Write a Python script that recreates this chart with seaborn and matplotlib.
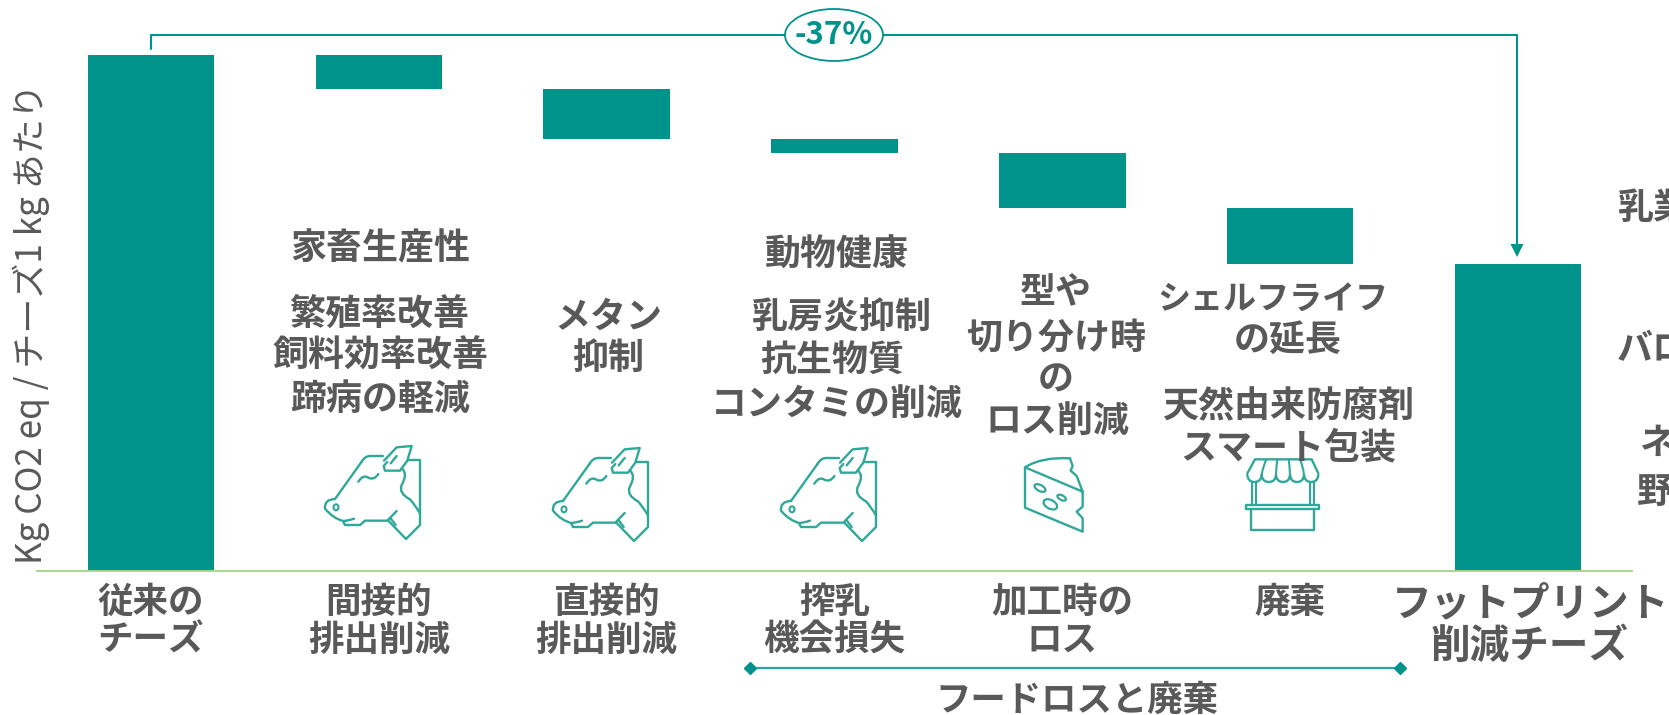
import matplotlib
matplotlib.use("Agg")
import matplotlib.pyplot as plt
import numpy as np
import pandas as pd
import seaborn as sns
from matplotlib.patches import Ellipse, PathPatch, Polygon
from matplotlib.path import Path
from matplotlib.transforms import Affine2D, ScaledTranslation

categories = ["従来の\nチーズ", "間接的\n排出削減", "直接的\n排出削減", "搾乳\n機会損失",
              "加工時の\nロス", "廃棄", "フットプリント\n削減チーズ"]
# Emissions per kg of cheese, conventional cheese = 100
bar_tops = [100.0, 100.0, 93.4, 83.7, 81.0, 70.3]
reductions = [6.6, 9.7, 2.7, 10.7, 10.9]
final_value = 59.4
change_label = "-37%"
ylabel = "Kg CO2 eq / チーズ1 kg あたり"
bracket_label = "フードロスと廃棄"

TEAL = "#00938c"
ICON = "#2fa899"
GREY = "#595959"
W, H = 1669, 715
CJK = ["Noto Sans CJK JP", "DejaVu Sans"]

sns.set_theme(style="white")
plt.rcParams["font.family"] = CJK

heights = [bar_tops[0]] + reductions + [final_value]
bottoms = [0.0] + [t - r for t, r in zip(bar_tops[1:], reductions)] + [0.0]
df = pd.DataFrame({"step": categories, "height": heights})

fig = plt.figure(figsize=(W / 100, H / 100), dpi=100, facecolor="white")
ax = fig.add_axes([37 / W, (H - 571) / H, 1595 / W, 516 / H])
sns.barplot(data=df, x="step", y="height", bottom=bottoms, color=TEAL, saturation=1,
            width=0.555, ax=ax, linewidth=0)
ax.set_xlim(-0.5, 6.5)
ax.set_ylim(0, 100)
ax.set_xlabel("")
ax.set_yticks([])
for side in ("top", "left", "right"):
    ax.spines[side].set_visible(False)
ax.spines["bottom"].set_color("#a9d68c")
ax.spines["bottom"].set_linewidth(1.4)
ax.tick_params(axis="x", length=0, pad=9)
ax.set_ylabel(ylabel, fontsize=25.2, color=GREY)
ax.yaxis.set_label_coords(0.0081, 0.48)
for i, lab in enumerate(ax.get_xticklabels()):
    lab.set(fontsize=28.5 if i == 6 else 25.6, color=GREY, fontweight="bold", linespacing=1.04)
    if i == 6:
        lab.set_transform(lab.get_transform() + ScaledTranslation(12 / 100, 0, fig.dpi_scale_trans))

# Overlay coordinates: figure pixels measured from the top-left corner
px = Affine2D().scale(1 / W, -1 / H).translate(0, 1) + fig.transFigure


def label(x, y, s, size=25.9, color=GREY):
    fig.text(x, y, s, transform=px, ha="center", va="center", fontsize=size,
             color=color, fontweight="bold")


annotations = [
    (380, 249, "家畜生産性"), (380, 314, "繁殖率改善"), (380, 356, "飼料効率改善"), (380, 399, "蹄病の軽減"),
    (608, 317, "メタン"), (608, 358, "抑制"),
    (837, 255, "動物健康"), (841, 318, "乳房炎抑制"), (832, 361, "抗生物質"), (837, 404, "コンタミの削減"),
    (1056, 293, "型や"), (1056, 339, "切り分け時"), (1056, 380, "の"), (1058, 421, "ロス削減"),
    (1288, 340, "の延長"), (1288, 407, "天然由来防腐剤"), (1288, 448, "スマート包装"),
    (1653, 209, "乳業"), (1653, 350, "バロ"), (1657, 443, "ネ"), (1655, 493, "野"),
]
for x, y, s in annotations:
    label(x, y, s)
label(1273, 300, "シェルフライフ", size=23.8)
label(1077, 700, bracket_label, size=25.5)


def line_path(points, closed=False, lw=1.7, color=ICON, dx=0, dy=0, scale=1 / 3):
    pts = [(dx + p[0] * scale, dy + p[1] * scale) for p in points]
    fig.add_artist(Polygon(pts, closed=closed, fill=False, edgecolor=color, linewidth=lw,
                           transform=px, joinstyle="round", capstyle="round"))


def smooth(points, dx=0, dy=0, scale=1 / 3, lw=1.7):
    pts = [(dx + p[0] * scale, dy + p[1] * scale) for p in points]
    codes = [Path.MOVETO] + [Path.CURVE3] * (len(pts) - 1)
    fig.add_artist(PathPatch(Path(pts, codes), fill=False, edgecolor=ICON, linewidth=lw,
                             transform=px, capstyle="round"))


def draw_cow(dx, dy):
    strokes = [
        [(105, 207), (185, 95)],
        [(210, 78), (250, 78)],
        [(252, 92), (290, 52), (335, 48), (322, 92), (300, 122), (255, 122), (251, 108), (262, 96)],
        [(272, 100), (290, 78)],
        [(325, 90), (360, 90), (360, 285), (318, 327), (265, 272)],
        [(290, 243), (262, 272), (195, 272), (180, 285), (135, 285), (130, 275)],
        [(272, 265), (287, 285)],
    ]
    for s in strokes:
        line_path(s, dx=dx, dy=dy)
    smooth([(185, 95), (195, 78), (210, 78)], dx=dx, dy=dy)
    smooth([(105, 207), (72, 208), (75, 236), (100, 266), (130, 273), (145, 272), (162, 266)],
           dx=dx, dy=dy)
    smooth([(175, 155), (190, 132), (205, 143), (222, 152), (235, 132)], dx=dx, dy=dy)
    smooth([(305, 115), (325, 130), (305, 165), (295, 190), (330, 208), (345, 225), (360, 250)],
           dx=dx, dy=dy)
    fig.add_artist(Ellipse((dx + 108 / 3, dy + 232 / 3), 5, 6, fill=False, edgecolor=ICON,
                           linewidth=1.5, transform=px))


for cow_x, cow_y in [(300, 430), (528, 432), (756, 432)]:
    draw_cow(cow_x, cow_y)

# Cheese wedge
CX, CY = 980, 430
smooth([(135, 112), (185, 80), (270, 85)], dx=CX, dy=CY)
line_path([(270, 85), (278, 108), (272, 122), (290, 138), (308, 185), (308, 230), (290, 245),
           (308, 265), (308, 305), (135, 233), (135, 112), (308, 185)], dx=CX, dy=CY)
for ex, ey, ew, eh in [(180, 174, 36, 18), (245, 203, 28, 14), (211, 223, 44, 26)]:
    fig.add_artist(Ellipse((CX + ex / 3, CY + ey / 3), ew / 3, eh / 3, angle=28, fill=False,
                           edgecolor=ICON, linewidth=1.6, transform=px))

# Market stall
SX, SY = 1200, 150
line_path([(142, 970), (165, 928), (335, 928), (355, 970)], dx=SX, dy=SY)
scallops = [142, 185, 228, 270, 312, 355]
for a, b in zip(scallops[:-1], scallops[1:]):
    smooth([(a, 975), (a + 2, 996), ((a + b) / 2, 996), (b - 2, 996), (b, 975)], dx=SX, dy=SY)
for bottom_x, top_x in [(185, 200), (228, 232), (270, 266), (312, 300)]:
    smooth([(bottom_x, 975), (bottom_x + (top_x - bottom_x) * 0.3, 945), (top_x, 928)],
           dx=SX, dy=SY, lw=1.5)
line_path([(138, 1065), (358, 1065), (358, 1077), (138, 1077)], closed=True, dx=SX, dy=SY)
line_path([(153, 1077), (153, 1140), (342, 1140), (342, 1077)], dx=SX, dy=SY)
for post in (155, 167, 330, 342):
    line_path([(post, 996), (post, 1065)], dx=SX, dy=SY, lw=1.5)

# Overall change bracket
fig.add_artist(plt.Line2D([151, 151, 1517, 1517], [49, 35, 35, 250], color=TEAL, linewidth=1.5,
                          transform=px))
fig.add_artist(Polygon([(1510.5, 244), (1523.5, 244), (1517, 257)], closed=True, color=TEAL,
                       linewidth=0, transform=px))
fig.add_artist(Ellipse((834, 35), 98, 52, facecolor="white", edgecolor=TEAL, linewidth=1.3,
                       transform=px, zorder=3))
fig.text(834, 35, change_label, transform=px, ha="center", va="center", fontsize=22.5,
         fontweight="bold", color=TEAL, family="Noto Sans CJK JP", zorder=4)

# Food loss and waste span
fig.add_artist(plt.Line2D([750, 1400], [667.5, 667.5], color="#2ba5a0", linewidth=1.6, transform=px,
                          marker="D", markersize=6.5, markerfacecolor=TEAL, markeredgecolor=TEAL))

fig.savefig("out.png", dpi=100, facecolor="white")
